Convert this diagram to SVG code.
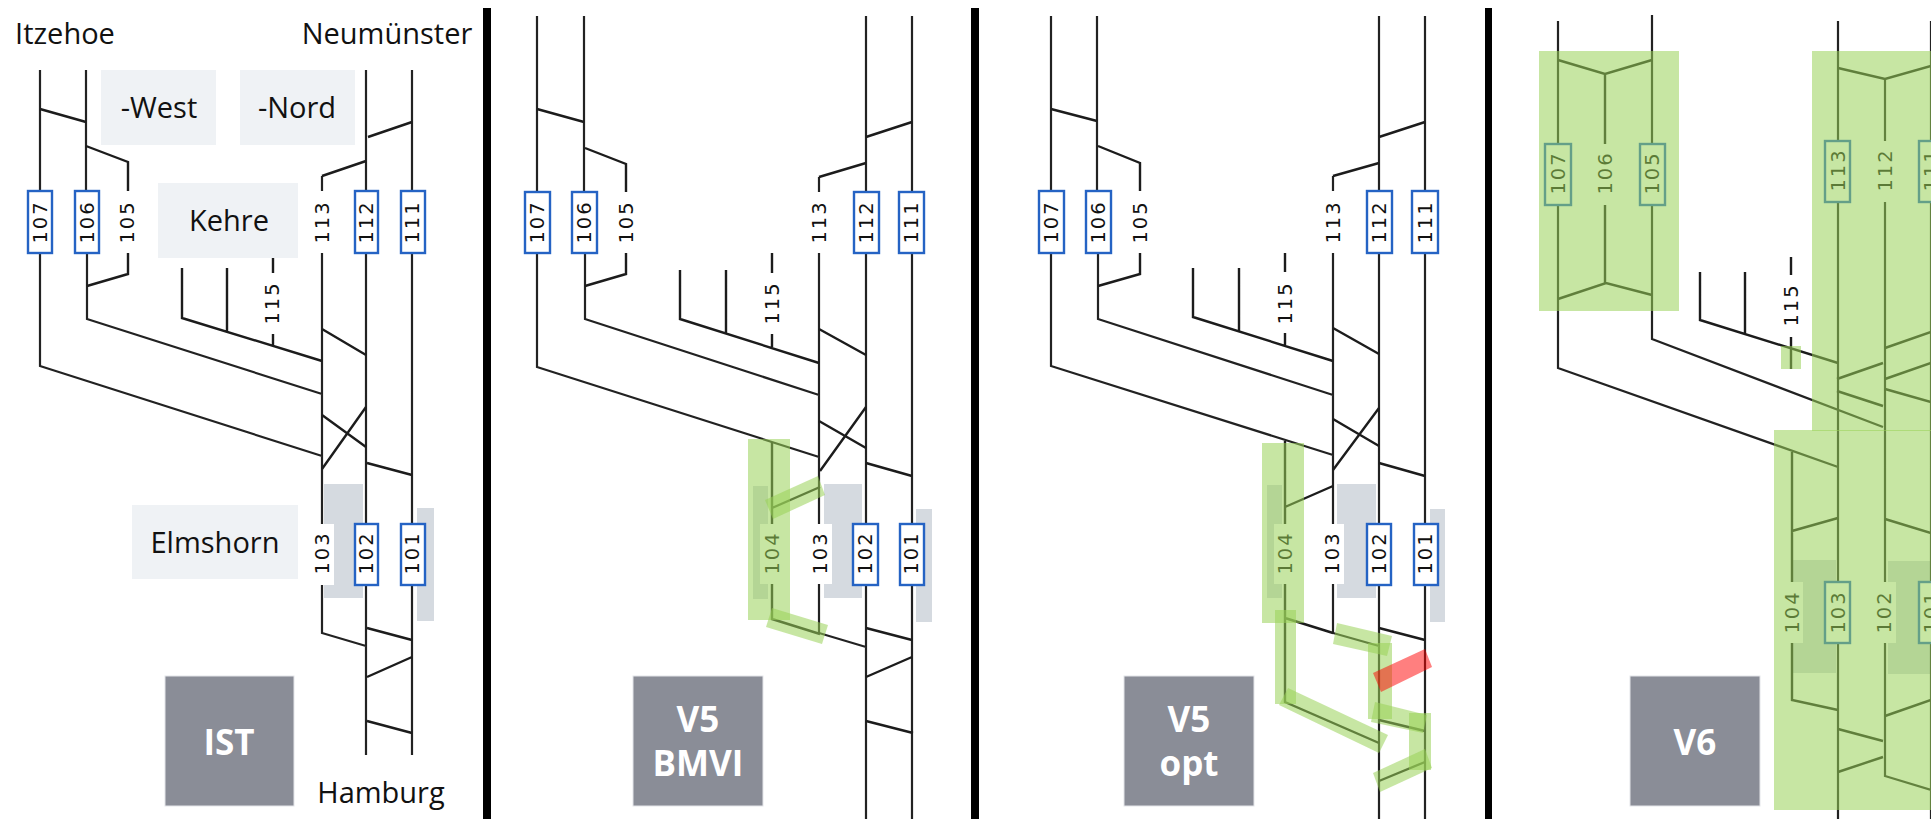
<svg xmlns="http://www.w3.org/2000/svg" width="1931" height="819" viewBox="0 0 1931 819">
<style>
.l{fill:none;stroke:#1c1c1c;stroke-width:2.4}
.r{fill:none;stroke:#222;stroke-width:2.2}
.b{fill:#fff;stroke:#2563c4;stroke-width:2.4}
.w{fill:#fff}
.n{font-family:"DejaVu Sans",sans-serif;font-size:19.5px;letter-spacing:1.9px;text-anchor:middle;fill:#111}
.t{font-family:"Open Sans",sans-serif;font-size:29px;text-anchor:middle;fill:#111}
.h{font-family:"Open Sans",sans-serif;font-size:35px;font-weight:700;text-anchor:middle;fill:#fff}
.a{fill:#eff2f5}
.g{fill:#d5dae0}
.v{fill:#99d157;opacity:.55}
.x{fill:#ff0000;opacity:.5}
.k{fill:#8a8d97;stroke:#e4e5e9;stroke-width:1}
.s{fill:#000}
</style>

<g id="dividers">
<rect class="s" x="483" y="8" width="8" height="811"/>
<rect class="s" x="971" y="8" width="8" height="811"/>
<rect class="s" x="1485" y="8" width="7" height="811"/>
</g>

<g id="ist-shade"><rect class="g" x="324" y="484" width="39" height="114"/><rect class="g" x="417" y="508" width="17" height="113"/></g>
<g id="bmvi-shade"><rect class="g" x="824" y="484" width="38" height="114"/><rect class="g" x="916" y="509" width="16" height="113"/><rect class="g" x="753" y="486" width="15" height="113"/></g>
<g id="opt-shade"><rect class="g" x="1337" y="484" width="39" height="114"/><rect class="g" x="1430" y="509" width="15" height="113"/><rect class="g" x="1267" y="485" width="15" height="113"/></g>
<g id="v6-shade"><rect class="g" x="1793" y="560" width="43" height="113"/><rect class="g" x="1888" y="561" width="43" height="113"/></g>

<g id="connectors">
<g id="connectors-ist">
<path class="r" d="M40 70V366L322 456M86 70V191M87 253V319L322 394M366 70V755M412 70V755M322 176V633L366 646"/>
<path class="l" d="M40 109L86 122M86 146L128 162V274L87 286M366 161L322 176M412 122L368 137M182 268V318L322 361M227 268V331M273 253V346M322 329L366 355M322 415L366 447M322 469L366 407M367 463L412 475M367 628L412 640M367 677L412 657M367 721L412 733"/>
</g>
<g id="connectors-bmvi">
<path class="r" d="M537 16V367L819 457M584 16V191M585 253V319L819 395M866 16V819M912 16V819M819 177V633L866 647"/>
<path class="l" d="M537 109L584 122M585 148L626 164V274L585 286M866 163L819 177M912 122L866 137M680 270V319L819 363M726 270V333M772 253V347M819 329L866 355M819 421L866 448M820 471L866 407M866 463L912 476M772 442V619L820 634M772 508L820 487M866 628L912 640M866 677L912 657M866 721L913 733"/>
</g>
<g id="connectors-opt">
<path class="r" d="M1051 16V366L1333 455M1097 16V191M1098 253V319L1333 395M1379 16V819M1425 16V819M1333 176V633L1379 646"/>
<path class="l" d="M1051 109L1097 121M1098 146L1140 163V274L1098 286M1379 163L1333 176M1425 122L1379 137M1193 268V317L1333 361M1239 268V331M1285 253V346M1333 328L1379 354M1333 419L1379 446M1333 470L1379 408M1379 463L1425 476M1285 441V702L1379 743M1285 507L1333 486M1285 618L1333 633M1379 628L1425 640M1379 720L1425 731M1379 781L1425 762"/>
</g>
<g id="connectors-v6">
<path class="r" d="M1558 21V368L1838 467M1652 15V339L1883 427M1838 21V819M1931 21V819M1885 79V776L1931 790"/>
<path class="l" d="M1558 60L1605 74L1652 60M1605 74V283M1558 299L1606 283L1652 295M1838 68L1885 79L1931 66M1700 272V320L1838 363M1745 272V334M1791 257V369M1837 379L1883 363M1837 391L1883 406M1885 348L1931 332M1885 379L1931 363M1885 389L1931 402M1792 452V700L1838 710M1792 531L1838 518M1885 519L1931 533M1885 716L1931 700M1838 729L1883 741M1838 772L1883 757"/>
</g>
</g>

<g id="areas">
<rect class="a" x="101" y="70" width="115" height="75"/>
<rect class="a" x="240" y="70" width="115" height="75"/>
<rect class="a" x="158" y="183" width="140" height="75"/>
<rect class="a" x="132" y="505" width="166" height="74"/>
<text class="t" x="159" y="118">-West</text>
<text class="t" x="297" y="118">-Nord</text>
<text class="t" x="229" y="231">Kehre</text>
<text class="t" x="215" y="553">Elmshorn</text>
<text class="t" x="65" y="44">Itzehoe</text>
<text class="t" x="387" y="44">Neumünster</text>
<text class="t" x="381" y="803">Hamburg</text>
</g>

<g id="ist-107"><rect class="b" x="28" y="191" width="24" height="62"/><text class="n" transform="translate(46.5 222) rotate(-90)">107</text></g>
<g id="ist-106"><rect class="b" x="75" y="191" width="24" height="62"/><text class="n" transform="translate(93.5 222) rotate(-90)">106</text></g>
<g id="ist-105"><rect class="w" x="116" y="191" width="24" height="62"/><text class="n" transform="translate(134 222) rotate(-90)">105</text></g>
<g id="ist-115"><rect class="w" x="262" y="273" width="24" height="61"/><text class="n" transform="translate(279 303) rotate(-90)">115</text></g>
<g id="ist-113"><rect class="w" x="310" y="191" width="24" height="62"/><text class="n" transform="translate(328.5 222) rotate(-90)">113</text></g>
<g id="ist-112"><rect class="b" x="355" y="191" width="23" height="62"/><text class="n" transform="translate(372.5 222) rotate(-90)">112</text></g>
<g id="ist-111"><rect class="b" x="401" y="191" width="24" height="62"/><text class="n" transform="translate(419 222) rotate(-90)">111</text></g>
<g id="ist-103"><rect class="w" x="310" y="524" width="24" height="61"/><text class="n" transform="translate(328.5 553) rotate(-90)">103</text></g>
<g id="ist-102"><rect class="b" x="355" y="524" width="23" height="61"/><text class="n" transform="translate(372.5 553) rotate(-90)">102</text></g>
<g id="ist-101"><rect class="b" x="401" y="524" width="24" height="61"/><text class="n" transform="translate(419 553) rotate(-90)">101</text></g>
<g id="ist-box"><rect class="k" x="165" y="676" width="129" height="130"/><text class="h" x="229" y="755">IST</text></g>

<g id="bmvi-107"><rect class="b" x="525" y="192" width="25" height="61"/><text class="n" transform="translate(544 222) rotate(-90)">107</text></g>
<g id="bmvi-106"><rect class="b" x="572" y="192" width="25" height="61"/><text class="n" transform="translate(591 222) rotate(-90)">106</text></g>
<g id="bmvi-105"><rect class="w" x="614" y="192" width="24" height="61"/><text class="n" transform="translate(632.5 222) rotate(-90)">105</text></g>
<g id="bmvi-115"><rect class="w" x="760" y="273" width="24" height="61"/><text class="n" transform="translate(778.5 303) rotate(-90)">115</text></g>
<g id="bmvi-113"><rect class="w" x="807" y="192" width="24" height="61"/><text class="n" transform="translate(825.5 222) rotate(-90)">113</text></g>
<g id="bmvi-112"><rect class="b" x="854" y="192" width="25" height="61"/><text class="n" transform="translate(872.5 222) rotate(-90)">112</text></g>
<g id="bmvi-111"><rect class="b" x="899" y="192" width="25" height="61"/><text class="n" transform="translate(918 222) rotate(-90)">111</text></g>
<g id="bmvi-104"><rect class="w" x="760" y="524" width="24" height="60"/><text class="n" transform="translate(778.5 553) rotate(-90)">104</text></g>
<g id="bmvi-103"><rect class="w" x="808" y="524" width="24" height="60"/><text class="n" transform="translate(826.5 553) rotate(-90)">103</text></g>
<g id="bmvi-102"><rect class="b" x="853" y="524" width="25" height="61"/><text class="n" transform="translate(872 553) rotate(-90)">102</text></g>
<g id="bmvi-101"><rect class="b" x="900" y="524" width="24" height="61"/><text class="n" transform="translate(918 553) rotate(-90)">101</text></g>
<g id="bmvi-box"><rect class="k" x="633" y="676" width="130" height="130"/><text class="h" x="698" y="732">V5<tspan x="698" dy="44">BMVI</tspan></text></g>

<g id="opt-107"><rect class="b" x="1039" y="191" width="25" height="62"/><text class="n" transform="translate(1058 222) rotate(-90)">107</text></g>
<g id="opt-106"><rect class="b" x="1086" y="191" width="25" height="62"/><text class="n" transform="translate(1105 222) rotate(-90)">106</text></g>
<g id="opt-105"><rect class="w" x="1128" y="191" width="24" height="62"/><text class="n" transform="translate(1146.5 222) rotate(-90)">105</text></g>
<g id="opt-115"><rect class="w" x="1273" y="272" width="24" height="61"/><text class="n" transform="translate(1291.5 303) rotate(-90)">115</text></g>
<g id="opt-113"><rect class="w" x="1321" y="191" width="24" height="62"/><text class="n" transform="translate(1339.5 222) rotate(-90)">113</text></g>
<g id="opt-112"><rect class="b" x="1367" y="191" width="25" height="62"/><text class="n" transform="translate(1385.5 222) rotate(-90)">112</text></g>
<g id="opt-111"><rect class="b" x="1412" y="191" width="26" height="62"/><text class="n" transform="translate(1431.5 222) rotate(-90)">111</text></g>
<g id="opt-104"><rect class="w" x="1274" y="524" width="24" height="60"/><text class="n" transform="translate(1291.5 553) rotate(-90)">104</text></g>
<g id="opt-103"><rect class="w" x="1321" y="524" width="23" height="60"/><text class="n" transform="translate(1339 553) rotate(-90)">103</text></g>
<g id="opt-102"><rect class="b" x="1367" y="524" width="24" height="61"/><text class="n" transform="translate(1385.5 553) rotate(-90)">102</text></g>
<g id="opt-101"><rect class="b" x="1414" y="524" width="24" height="61"/><text class="n" transform="translate(1432 553) rotate(-90)">101</text></g>
<g id="opt-box"><rect class="k" x="1124" y="676" width="130" height="130"/><text class="h" x="1189" y="732">V5<tspan x="1189" dy="44">opt</tspan></text></g>

<g id="v6-107"><rect class="b" x="1545" y="144" width="26" height="61"/><text class="n" transform="translate(1564.5 173) rotate(-90)">107</text></g>
<g id="v6-106"><rect class="w" x="1593" y="144" width="24" height="61"/><text class="n" transform="translate(1611.5 173) rotate(-90)">106</text></g>
<g id="v6-105"><rect class="b" x="1640" y="144" width="25" height="61"/><text class="n" transform="translate(1659 173) rotate(-90)">105</text></g>
<g id="v6-115"><rect class="w" x="1779" y="275" width="24" height="62"/><text class="n" transform="translate(1797.5 305) rotate(-90)">115</text></g>
<g id="v6-113"><rect class="b" x="1825" y="141" width="25" height="61"/><text class="n" transform="translate(1844.5 170) rotate(-90)">113</text></g>
<g id="v6-112"><rect class="w" x="1873" y="141" width="24" height="61"/><text class="n" transform="translate(1891.5 170) rotate(-90)">112</text></g>
<g id="v6-111"><rect class="b" x="1919" y="141" width="26" height="61"/><text class="n" transform="translate(1938 170) rotate(-90)">111</text></g>
<g id="v6-104"><rect class="w" x="1780" y="582" width="23" height="61"/><text class="n" transform="translate(1798.5 612) rotate(-90)">104</text></g>
<g id="v6-103"><rect class="b" x="1825" y="582" width="25" height="61"/><text class="n" transform="translate(1844.5 612) rotate(-90)">103</text></g>
<g id="v6-102"><rect class="w" x="1871" y="582" width="25" height="61"/><text class="n" transform="translate(1891 612) rotate(-90)">102</text></g>
<g id="v6-101"><rect class="b" x="1919" y="582" width="26" height="61"/><text class="n" transform="translate(1938 612) rotate(-90)">101</text></g>
<g id="v6-box"><rect class="k" x="1630" y="676" width="130" height="130"/><text class="h" x="1695" y="755">V6</text></g>

<g id="highlights">
<rect class="v" x="748" y="439" width="42" height="181"/>
<polygon class="v" points="765,500 818,476 825,495 773,519"/>
<polygon class="v" points="772,608 828,625 822,644 766,627"/>

<rect class="v" x="1262" y="443" width="42" height="180"/>
<rect class="v" x="1275" y="610" width="21" height="94"/>
<polygon class="v" points="1288,688 1388,735 1379,753 1279,705"/>
<polygon class="v" points="1337,623 1392,636 1387,656 1333,644"/>
<rect class="v" x="1368" y="643" width="24" height="76"/>
<polygon class="v" points="1375,702 1427,715 1423,733 1371,722"/>
<rect class="v" x="1409" y="713" width="22" height="57"/>
<polygon class="v" points="1373,773 1425,749 1432,768 1380,792"/>
<polygon class="x" points="1373,673 1425,649 1432,667 1381,692"/>

<rect class="v" x="1539" y="51" width="140" height="260"/>
<rect class="v" x="1812" y="51" width="119" height="380"/>
<rect class="v" x="1774" y="430" width="157" height="380"/>
<rect class="v" x="1781" y="346" width="20" height="23"/>
</g>
</svg>
